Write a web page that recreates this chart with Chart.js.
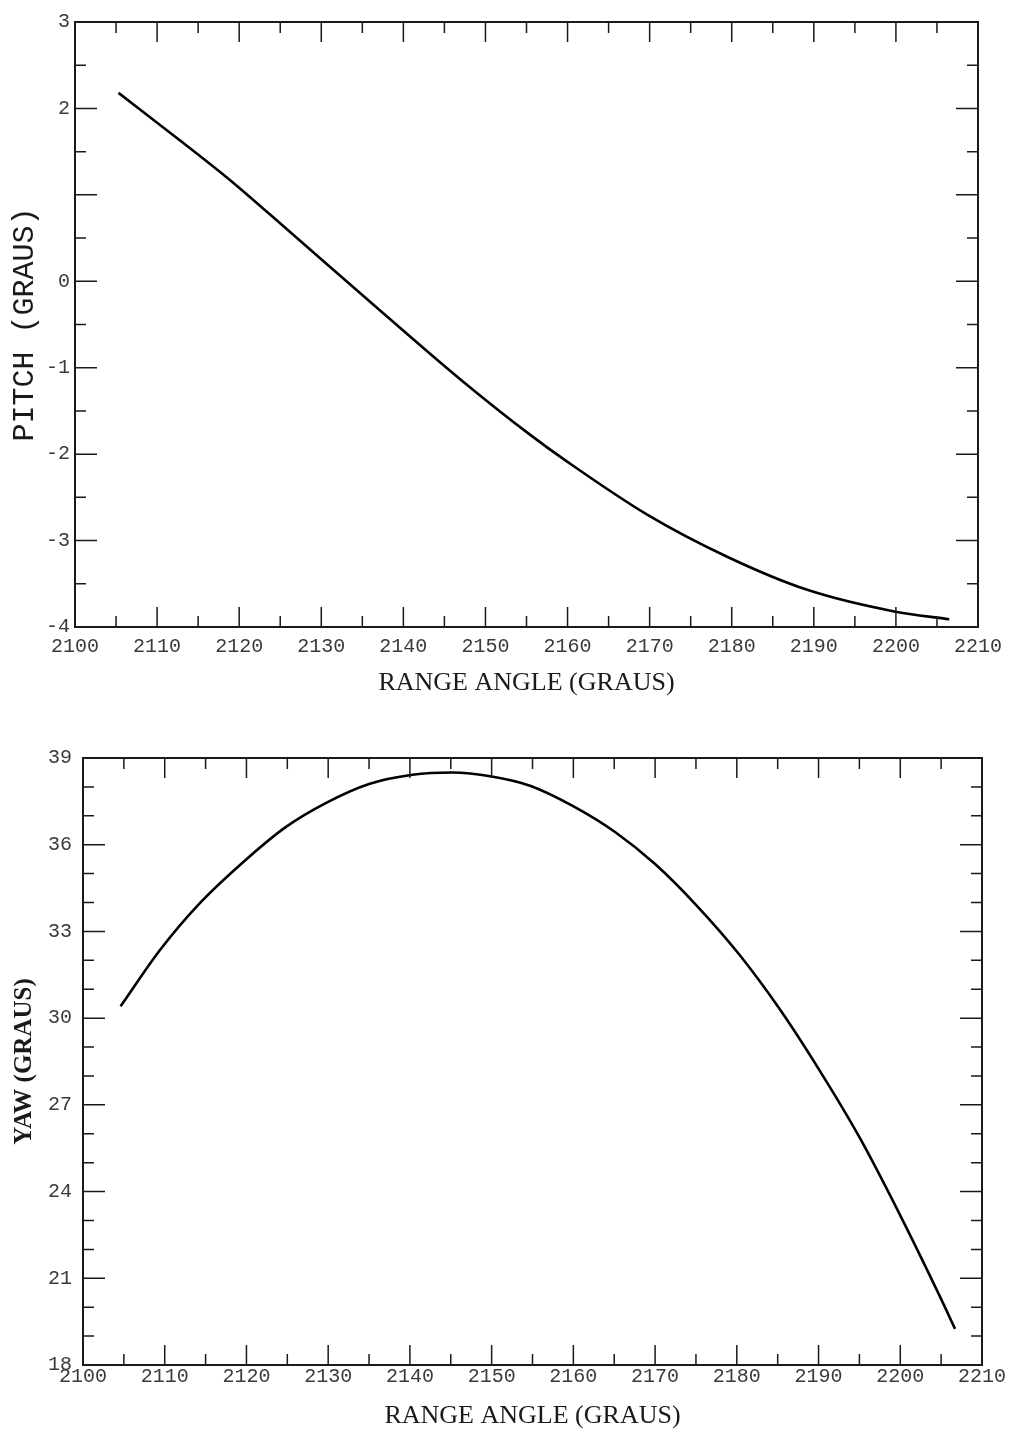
<!DOCTYPE html>
<html>
<head>
<meta charset="utf-8">
<title>Pitch / Yaw vs Range Angle</title>
<script src="https://cdn.jsdelivr.net/npm/chart.js@4.4.1/dist/chart.umd.min.js"></script>
<style>
  html, body { margin: 0; padding: 0; background: #fff; }
  canvas { display: block; }
</style>
</head>
<body>
<canvas id="pitchChart" width="1012" height="715"></canvas>
<canvas id="yawChart" width="1012" height="714"></canvas>
<script>
// Datos
const pitchAngle = [2105.3, 2112.8, 2118.9, 2126.2, 2137.2, 2147.4, 2155.5, 2160.0, 2169.7, 2179.5, 2189.2, 2199.8, 2206.5];
const pitchValues = [2.18, 1.63, 1.17, 0.57, -0.34, -1.17, -1.78, -2.09, -2.70, -3.19, -3.57, -3.82, -3.91];

const yawAngle = [2104.6, 2109.4, 2114.3, 2120.0, 2124.8, 2129.7, 2135.0, 2140.3, 2145.2, 2150.0, 2154.7,
  2159.8, 2165.1, 2170.0, 2175.2, 2180.3, 2185.2, 2190.1, 2195.0, 2199.9, 2204.8, 2206.7];
const yawValues = [30.41, 32.35, 33.98, 35.50, 36.61, 37.44, 38.10, 38.42, 38.50, 38.36, 38.04,
  37.36, 36.44, 35.33, 33.86, 32.20, 30.33, 28.20, 25.88, 23.23, 20.40, 19.25];

const xTickLabels = [2100, 2110, 2120, 2130, 2140, 2150, 2160, 2170, 2180, 2190, 2200, 2210];
const pitchTickLabels = [3, 2, 0, -1, -2, -3, -4];   // el "1" no aparece en el original
const yawTickLabels = [18, 21, 24, 27, 30, 33, 36, 39];

// Marco y marcas hacia adentro en los cuatro lados
const frameTicks = {
  id: 'frameTicks',
  afterDatasetsDraw(chart, args, opts) {
    const { ctx, chartArea: a, scales: { x, y } } = chart;
    ctx.save();
    ctx.strokeStyle = '#1a1a1a';
    ctx.lineWidth = 2;
    ctx.strokeRect(a.left, a.top, a.right - a.left, a.bottom - a.top);
    ctx.lineWidth = 1.5;
    ctx.beginPath();
    let n = Math.round((x.max - x.min) / opts.xMinor);
    for (let i = 1; i < n; i++) {
      const px = x.getPixelForValue(x.min + i * opts.xMinor);
      const len = i % opts.xRatio === 0 ? 20 : 11;
      ctx.moveTo(px, a.bottom); ctx.lineTo(px, a.bottom - len);
      ctx.moveTo(px, a.top); ctx.lineTo(px, a.top + len);
    }
    n = Math.round((y.max - y.min) / opts.yMinor);
    for (let i = 1; i < n; i++) {
      const py = y.getPixelForValue(y.min + i * opts.yMinor);
      const len = i % opts.yRatio === 0 ? 22 : 11;
      ctx.moveTo(a.left, py); ctx.lineTo(a.left + len, py);
      ctx.moveTo(a.right, py); ctx.lineTo(a.right - len, py);
    }
    ctx.stroke();
    ctx.restore();
  }
};

const tickFont = { family: '"Liberation Mono", "DejaVu Sans Mono", monospace', size: 20 };

function makeChart(id, cfg) {
  const ctx = document.getElementById(id).getContext('2d');
  return new Chart(ctx, {
    type: 'line',
    data: {
      datasets: [{
        data: cfg.xs.map((v, i) => ({ x: v, y: cfg.ys[i] })),
        borderColor: '#000',
        borderWidth: 2.6,
        pointRadius: 0,
        fill: false,
        cubicInterpolationMode: 'monotone'
      }]
    },
    plugins: [frameTicks],
    options: {
      responsive: false,
      animation: false,
      layout: { padding: cfg.padding },
      plugins: {
        legend: { display: false },
        tooltip: { enabled: false },
        frameTicks: cfg.ticks
      },
      scales: {
        x: {
          type: 'linear',
          min: 2100, max: 2210,
          afterFit: s => { s.height = cfg.xHeight; },
          afterBuildTicks: s => { s.ticks = xTickLabels.map(v => ({ value: v })); },
          grid: { display: false, drawTicks: false },
          border: { display: false },
          ticks: {
            autoSkip: false, maxRotation: 0, padding: cfg.xPad, color: '#3a3a3a', font: tickFont,
            callback: v => String(v)
          },
          title: {
            display: true,
            text: 'RANGE ANGLE (GRAUS)',
            color: '#1a1a1a',
            font: { family: '"Liberation Serif", "DejaVu Serif", serif', size: 26, lineHeight: 1 },
            padding: { top: 0, bottom: cfg.xTitlePad }
          }
        },
        y: {
          min: cfg.yMin, max: cfg.yMax,
          afterFit: s => { s.width = cfg.yWidth; },
          afterBuildTicks: s => { s.ticks = cfg.yLabels.map(v => ({ value: v })); },
          grid: { display: false, drawTicks: false },
          border: { display: false },
          ticks: {
            autoSkip: false, padding: cfg.yPad, color: '#3a3a3a', font: tickFont,
            callback: v => String(v)
          },
          title: {
            display: true,
            text: cfg.yTitle,
            color: '#1a1a1a',
            font: cfg.yTitleFont,
            padding: { top: cfg.yTitlePad, bottom: 0 }
          }
        }
      }
    }
  });
}

makeChart('pitchChart', {
  xs: pitchAngle, ys: pitchValues,
  yMin: -4, yMax: 3, yLabels: pitchTickLabels,
  padding: { left: 0, top: 22, right: 34, bottom: 0 },
  xHeight: 88, yWidth: 75, xPad: 8, yPad: 5, xTitlePad: 19, yTitlePad: 7,
  yTitle: 'PITCH (GRAUS)',
  yTitleFont: { family: '"Liberation Mono", "DejaVu Sans Mono", monospace', size: 30, lineHeight: 1.2 },
  ticks: { xMinor: 5, xRatio: 2, yMinor: 0.5, yRatio: 2 }
});

makeChart('yawChart', {
  xs: yawAngle, ys: yawValues,
  yMin: 18, yMax: 39, yLabels: yawTickLabels,
  padding: { left: 0, top: 43, right: 30, bottom: 0 },
  xHeight: 64, yWidth: 83, xPad: 0, yPad: 11, xTitlePad: 0, yTitlePad: 10,
  yTitle: 'YAW (GRAUS)',
  yTitleFont: { family: '"Liberation Serif", "DejaVu Serif", serif', size: 25, weight: 'bold', lineHeight: 1.2 },
  ticks: { xMinor: 5, xRatio: 2, yMinor: 1, yRatio: 3 }
});
</script>
</body>
</html>
